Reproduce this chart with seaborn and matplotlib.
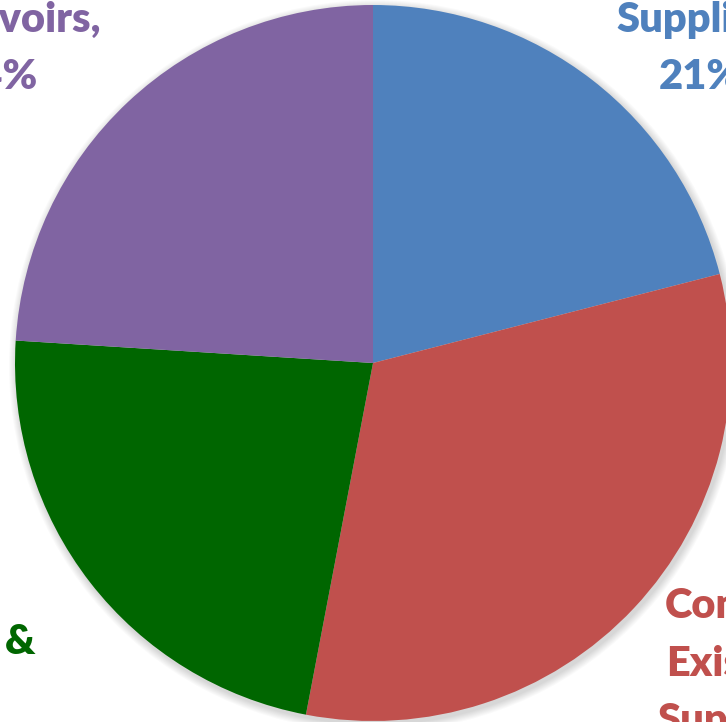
import matplotlib
matplotlib.use("Agg")
import matplotlib.pyplot as plt
from matplotlib.patches import Circle
import seaborn as sns

# slice data (clockwise from 12 o'clock)
labels = ["Imported\nSupplies,\n21%", "Convert\nExisting\nSupplies,\n32%",
          "Water Reuse &\n23%", "Reservoirs,\n24%"]
shares = [21, 32, 23, 24]
colours = ["#4F81BD", "#C0504D", "#006600", "#8064A2"]

sns.set_theme(style="white")
plt.rcParams['font.family'] = ['Lato', 'DejaVu Sans']
palette = sns.color_palette(colours)

fig = plt.figure(figsize=(7.26, 7.22), dpi=100)
ax = fig.add_axes([0, 0, 1, 1])

centre = (373, 359)
radius = 358

# soft shadow behind the pie
for k in range(1, 9):
    ax.add_patch(Circle((centre[0] + 2, centre[1] - 3), radius + k,
                        color='black', alpha=0.018, lw=0, zorder=0))

wedges, _ = ax.pie(shares, colors=palette, startangle=90, counterclock=False,
                   center=centre, radius=radius, frame=True,
                   wedgeprops=dict(linewidth=0, zorder=1))
ax.set_xlim(0, 726)
ax.set_ylim(0, 722)
ax.set_aspect('equal')
ax.axis('off')

# label placement: anchor is the baseline of the last line
label_pos = [(613, 633, 'left'), (657, -68, 'left'), (35, 11, 'right'), (101, 633, 'right')]
for lab, col, (x, y, ha) in zip(labels, palette, label_pos):
    ax.text(x, y, lab, color=col, fontsize=30, fontweight='heavy', ha=ha, va='baseline',
            multialignment='center', linespacing=1.62, zorder=3)

fig.savefig("out.png", dpi=100)
